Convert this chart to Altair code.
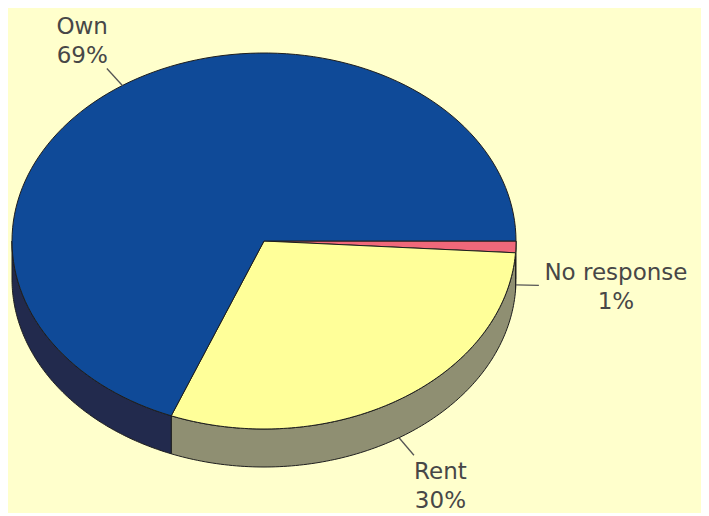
import altair as alt
import pandas as pd

# ---- data ----
labels = ["No response", "Rent", "Own"]
values = [1, 30, 69]
pct_text = ["1%", "30%", "69%"]
top_colors = ["#f0687a", "#ffff99", "#0f4a98"]
side_colors = ["#b54a58", "#8f8f72", "#222a4d"]

df = pd.DataFrame({"label": labels, "value": values, "pct": pct_text,
                   "order": list(range(len(labels)))})

# ---- geometry parameters (pixels) ----
W, H = 693, 500
CX, CY = 256, 233          # pie centre inside the plot area
A, B = 252, 188            # ellipse semi-axes
DEPTH_PX = 38              # thickness of the pie
N = 120                    # arc resolution
D = DEPTH_PX / B
LH = 29                    # label line height

xscale = alt.Scale(domain=[-CX / A, (W - CX) / A], nice=False, zero=False)
yscale = alt.Scale(domain=[-CY / B, (H - CY) / B], nice=False, zero=False, reverse=True)
X = lambda f: alt.X(f"{f}:Q", scale=xscale, axis=None)
Y = lambda f: alt.Y(f"{f}:Q", scale=yscale, axis=None)

base = (alt.Chart(df)
        .transform_window(cum="sum(value)", sort=[alt.SortField("order")])
        .transform_joinaggregate(total="sum(value)")
        .transform_calculate(f0="(datum.cum - datum.value) / datum.total",
                             f1="datum.cum / datum.total"))

# side wall (visible front half: angles 0..pi, clockwise from east on screen)
side = (base
        .transform_calculate(a0="max(datum.f0, 0)", a1="min(datum.f1, 0.5)")
        .transform_filter("datum.a1 > datum.a0")
        .transform_calculate(step=f"sequence(0, {N + 1})")
        .transform_flatten(["step"])
        .transform_calculate(t=f"2*PI*(datum.a0 + (datum.a1 - datum.a0) * datum.step / {N})")
        .transform_calculate(px="cos(datum.t)", py="sin(datum.t)",
                             py2=f"sin(datum.t) + {D}")
        .mark_area(stroke="#1e1e1e", strokeWidth=1, interpolate="linear")
        .encode(x=X("px"), y=Y("py"), y2="py2:Q", detail="label:N",
                fill=alt.Fill("label:N", scale=alt.Scale(domain=labels, range=side_colors),
                              legend=None)))

# top face
top = (base
       .transform_calculate(step=f"sequence(-1, {N + 1})")
       .transform_flatten(["step"])
       .transform_calculate(t=f"2*PI*(datum.f0 + (datum.f1 - datum.f0) * max(datum.step, 0) / {N})")
       .transform_calculate(px="datum.step < 0 ? 0 : cos(datum.t)",
                            py="datum.step < 0 ? 0 : sin(datum.t)")
       .mark_line(interpolate="linear-closed", filled=True, stroke="#1e1e1e",
                  strokeWidth=1)
       .encode(x=X("px"), y=Y("py"), order="step:Q", detail="label:N",
               fill=alt.Fill("label:N", scale=alt.Scale(domain=labels, range=top_colors),
                             legend=None)))

# label geometry
lab = (base
       .transform_calculate(t="PI * (datum.f0 + datum.f1)")
       .transform_calculate(c="cos(datum.t)", s="sin(datum.t)")
       .transform_calculate(n=f"sqrt(pow({A}*datum.c, 2) + pow({B}*datum.s, 2))")
       .transform_calculate(ux=f"{A}*datum.c / datum.n", uy=f"{B}*datum.s / datum.n",
                            axp=f"{A}*datum.c",
                            ayp=f"{B}*datum.s + (datum.s > 0.01 ? {DEPTH_PX} : 0)",
                            hw="6.5 * max(length(datum.label), length(datum.pct))")
       .transform_calculate(dist="28 + datum.hw * abs(datum.ux) + 25 * abs(datum.uy)")
       .transform_calculate(lx1=f"datum.axp / {A}", ly1=f"datum.ayp / {B}",
                            lx2=f"(datum.axp + 23 * datum.ux) / {A}",
                            ly2=f"(datum.ayp + 23 * datum.uy) / {B}",
                            tx=f"(datum.axp + datum.dist * datum.ux) / {A}",
                            ty=f"(datum.ayp + datum.dist * datum.uy - {LH / 2}) / {B}",
                            txt="[datum.label, datum.pct]"))

rules = lab.mark_rule(color="#555555", strokeWidth=1.3).encode(
    x=X("lx1"), y=Y("ly1"), x2="lx2:Q", y2="ly2:Q")

texts = lab.mark_text(font="DejaVu Sans", fontSize=23, lineHeight=LH, color="#474747",
                      align="center", baseline="middle").encode(
    x=X("tx"), y=Y("ty"), text="txt:N")

chart = (alt.layer(side, top, rules, texts)
         .resolve_scale(fill="independent")
         .properties(width=W, height=H, padding=0, background="#ffffcc")
         .configure_view(stroke=None))

chart.save("out.html", embed_options={"renderer": "svg", "actions": False})
